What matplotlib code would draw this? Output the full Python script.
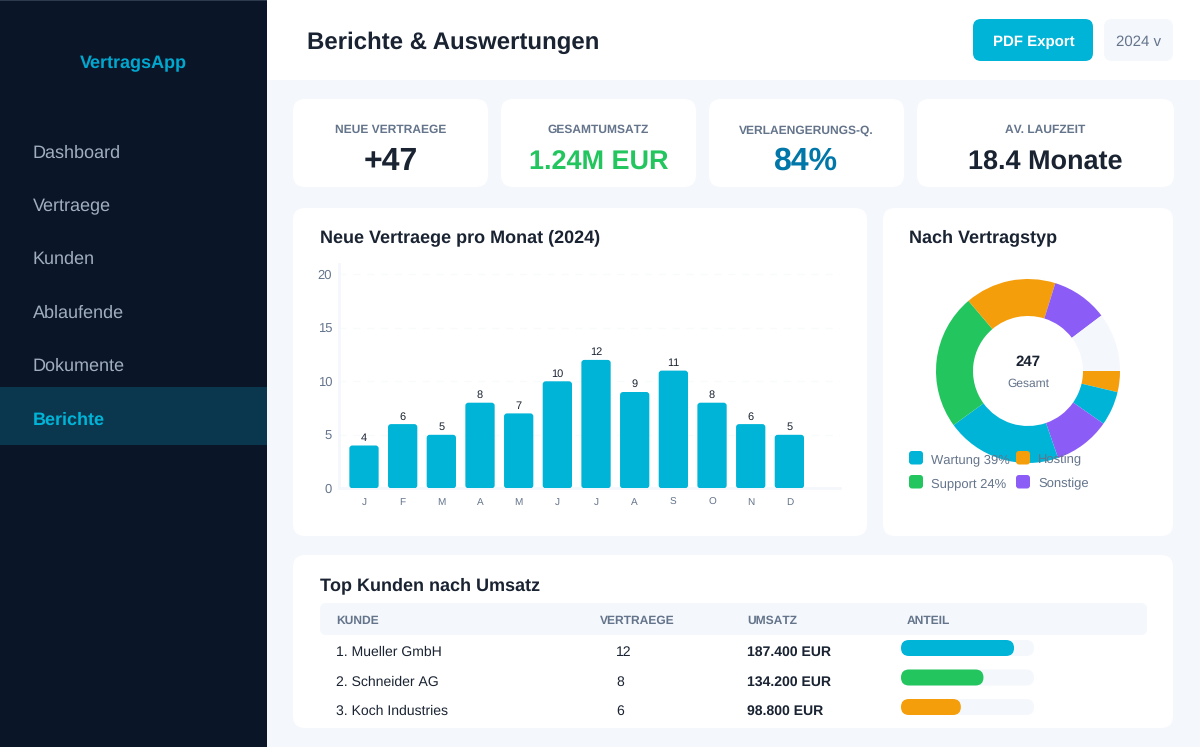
import matplotlib
matplotlib.use('Agg')
import matplotlib.pyplot as plt
from matplotlib.patches import FancyBboxPatch, Rectangle

plt.rcParams['font.family'] = ['Liberation Sans', 'DejaVu Sans']
plt.rcParams['text.hinting'] = 'no_hinting'
plt.rcParams['text.hinting_factor'] = 1

W, H = 1200, 747

# data
nav_items = ['Dashboard', 'Vertraege', 'Kunden', 'Ablaufende', 'Dokumente', 'Berichte']
kpi_labels = ['NEUE VERTRAEGE', 'GESAMTUMSATZ', 'VERLAENGERUNGS-Q.', 'AV. LAUFZEIT']
kpi_values = ['+47', '1.24M EUR', '84%', '18.4 Monate']
months = ['J', 'F', 'M', 'A', 'M', 'J', 'J', 'A', 'S', 'O', 'N', 'D']
new_contracts = [4, 6, 5, 8, 7, 10, 12, 9, 11, 8, 6, 5]
y_ticks = [0, 5, 10, 15, 20]
donut_shares = [3.7, 6.0, 10.0, 20.3, 23.8, 16.0, 9.9, 10.3]
donut_colors = ['#f59e0b', '#00b4d8', '#8b5cf6', '#00b4d8', '#22c55e', '#f59e0b', '#8b5cf6', '#f4f7fb']
legend_labels = ['Wartung 39%', 'Support 24%', 'Hosting', 'Sonstige']
legend_colors = ['#00b4d8', '#22c55e', '#f59e0b', '#8b5cf6']
table_head = ['KUNDE', 'VERTRAEGE', 'UMSATZ', 'ANTEIL']
customers = ['1. Mueller GmbH', '2. Schneider AG', '3. Koch Industries']
customer_contracts = ['12', '8', '6']
customer_revenue = ['187.400 EUR', '134.200 EUR', '98.800 EUR']
customer_share = [85, 62, 45]
share_colors = ['#00b4d8', '#22c55e', '#f59e0b']

BG = '#f4f7fb'
DARK = '#1a2332'
GREY = '#64748b'
CYAN = '#00b4d8'


def px_axes(z):
    a = fig.add_axes([0, 0, 1, 1], zorder=z)
    a.set_xlim(0, W)
    a.set_ylim(H, 0)
    a.axis('off')
    a.patch.set_alpha(0)
    return a


def sub_axes(left, top, right, bottom, z=1):
    return fig.add_axes([left / W, 1 - bottom / H, (right - left) / W, (bottom - top) / H], zorder=z)


def box(a, x0, y0, x1, y1, r, color, z=1):
    a.add_patch(FancyBboxPatch((x0, y0), x1 - x0, y1 - y0, boxstyle=f'round,pad=0,rounding_size={r}',
                               fc=color, ec='none', zorder=z))


def label(a, x, y, s, size, color=DARK, weight='normal', ha='left'):
    # sizes are given in css px, y is the middle of the capitals
    a.text(x, y + 0.35 * size, s, fontsize=size * 0.72, color=color, fontweight=weight,
           ha=ha, va='baseline', zorder=5)


fig = plt.figure(figsize=(W / 100, H / 100), dpi=100, facecolor=BG)
bg = px_axes(0)
top = px_axes(5)

# sidebar
bg.add_patch(Rectangle((0, 0), 266.5, H, fc='#0a1628', ec='none'))
bg.add_patch(Rectangle((0, 0), 266.5, 1, fc='#2d3a4d', ec='none', zorder=2))
bg.add_patch(Rectangle((0, 387), 266.5, 58, fc='#0a364e', ec='none', zorder=2))
label(bg, 133.5, 62, 'VertragsApp', 18, '#00a8d0', 'bold', 'center')
nav_y = [152, 205, 258, 312, 365, 418.5]
for name, y in zip(nav_items, nav_y):
    active = name == 'Berichte'
    label(bg, 33, y, name, 18, CYAN if active else '#a0aec0', 'bold' if active else 'normal')

# header
bg.add_patch(Rectangle((266.5, 0), W - 266.5, 80, fc='white', ec='none'))
label(bg, 307, 41, 'Berichte & Auswertungen', 24, DARK, 'bold')
box(bg, 973, 19, 1093, 61, 8, CYAN)
label(bg, 1033.5, 41, 'PDF Export', 14.5, 'white', 'bold', 'center')
box(bg, 1104, 19, 1173, 61, 8, BG)
label(bg, 1138.5, 41, '2024 v', 14.5, GREY, 'normal', 'center')

# kpi cards
kpi_x = [(293, 488), (501, 696), (709, 904), (917, 1174)]
kpi_colors = [DARK, '#22c55e', '#0077a8', DARK]
kpi_sizes = [32, 26.5, 32, 26.5]
for (x0, x1), lab, val, col, size in zip(kpi_x, kpi_labels, kpi_values, kpi_colors, kpi_sizes):
    box(bg, x0, 99, x1, 187, 12, 'white')
    mid = (x0 + x1) / 2
    label(bg, mid, 129, lab, 12, GREY, 'bold', 'center')
    label(bg, mid, 169.5 - 0.35 * size, val, size, col, 'bold', 'center')

# chart cards
box(bg, 293, 208, 867, 536, 12, 'white')
box(bg, 883, 208, 1173, 536, 12, 'white')
box(bg, 293, 555, 1173, 728, 12, 'white')
label(bg, 320, 236.3, 'Neue Vertraege pro Monat (2024)', 18, DARK, 'bold')
label(bg, 909, 236.3, 'Nach Vertragstyp', 18, DARK, 'bold')
label(bg, 320, 583.5, 'Top Kunden nach Umsatz', 18, DARK, 'bold')

# bars
x_unit, y_unit = 38.67, 10.7
ax = sub_axes(339, 264.3, 840, 488.3)
ax.patch.set_alpha(0)
ax.set_xlim(-25 / x_unit, 476 / x_unit)
ax.set_ylim(0, 224 / y_unit)
for side in ['top', 'right']:
    ax.spines[side].set_visible(False)
for side in ['left', 'bottom']:
    ax.spines[side].set_color(BG)
    ax.spines[side].set_linewidth(2)
ax.set_axisbelow(True)
ax.yaxis.grid(True, color='#f8fafc', linewidth=1, linestyle=(0, (5, 5)))
bar_w = 29.3 / x_unit
for i, v in enumerate(new_contracts):
    ax.add_patch(FancyBboxPatch((i - bar_w / 2, 0), bar_w, v,
                                boxstyle=f'round,pad=0,rounding_size={3 / x_unit}',
                                mutation_aspect=x_unit / y_unit, fc=CYAN, ec='none', zorder=3))
    ax.text(i, v + 0.7, str(v), fontsize=11.5 * 0.72, color=DARK, ha='center', va='center', zorder=4)
ax.set_xticks(range(len(months)))
ax.set_xticklabels(months)
ax.set_yticks(y_ticks)
ax.tick_params(axis='both', length=0, labelcolor=GREY)
ax.tick_params(axis='x', labelsize=10.5 * 0.72, pad=7)
ax.tick_params(axis='y', labelsize=13 * 0.72, pad=5)

# donut
dx = sub_axes(936, 279, 1120, 463)
dx.pie(donut_shares, colors=donut_colors, startangle=0, counterclock=False, radius=1,
       wedgeprops={'width': 37 / 92, 'linewidth': 0})
dx.set_xlim(-1, 1)
dx.set_ylim(-1, 1)
label(top, 1028, 361, '247', 14.5, DARK, 'bold', 'center')
label(top, 1028, 383, 'Gesamt', 12, GREY, 'normal', 'center')
legend_x = [909, 909, 1016, 1016]
legend_y = [451, 475, 451, 475]
for x, y, name, col in zip(legend_x, legend_y, legend_labels, legend_colors):
    box(top, x, y, x + 14, y + 13.5, 3, col)
    label(top, x + 22, y + 8, name, 13, GREY)

# table
box(bg, 320, 603, 1147, 635, 6, BG)
for x, name in zip([336, 600, 747, 907], table_head):
    label(bg, x, 620, name, 12, GREY, 'bold')
row_y = [651, 680.5, 710]
for y, name, n, rev, share, col in zip(row_y, customers, customer_contracts, customer_revenue,
                                       customer_share, share_colors):
    label(bg, 336, y, name, 14.4, DARK)
    label(bg, 616, y, n, 14.4, DARK)
    label(bg, 747, y, rev, 14.4, DARK, 'bold')
    box(bg, 901, y - 11, 1034, y + 5, 8, BG)
    box(bg, 901, y - 11, 901 + 133 * share / 100, y + 5, 8, col)

fig.savefig('out.png', dpi=100, facecolor=BG)
